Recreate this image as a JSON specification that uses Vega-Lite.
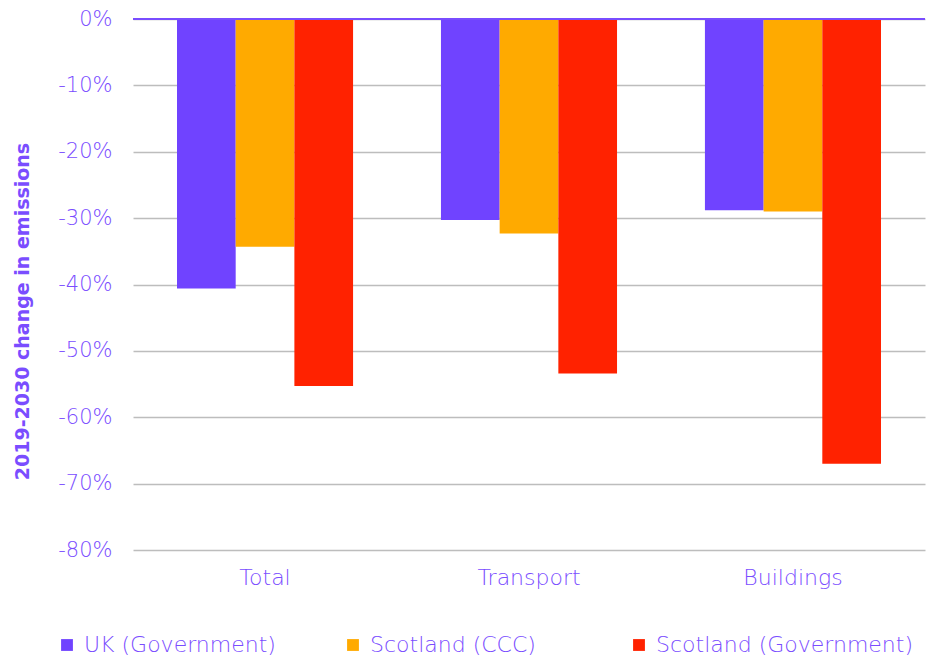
{
  "$schema": "https://vega.github.io/schema/vega-lite/v6.json",
  "width": 792,
  "height": 531,
  "autosize": "none",
  "padding": {"left": 133, "top": 19, "right": 4, "bottom": 111},
  "background": "white",
  "config": {
    "font": "DejaVu Sans",
    "view": {"stroke": null},
    "axis": {"labelFont": "DejaVu Sans", "titleFont": "DejaVu Sans"},
    "legend": {"labelFont": "DejaVu Sans"}
  },
  "data": {
    "values": [
      {"category": "Total", "series": "UK (Government)", "value": -40.6},
      {"category": "Total", "series": "Scotland (CCC)", "value": -34.3},
      {"category": "Total", "series": "Scotland (Government)", "value": -55.3},
      {"category": "Transport", "series": "UK (Government)", "value": -30.3},
      {"category": "Transport", "series": "Scotland (CCC)", "value": -32.3},
      {"category": "Transport", "series": "Scotland (Government)", "value": -53.4},
      {"category": "Buildings", "series": "UK (Government)", "value": -28.8},
      {"category": "Buildings", "series": "Scotland (CCC)", "value": -29.0},
      {"category": "Buildings", "series": "Scotland (Government)", "value": -67.0}
    ]
  },
  "layer": [
    {
      "mark": {"type": "bar"},
      "encoding": {
        "x": {
          "field": "category",
          "type": "nominal",
          "sort": ["Total", "Transport", "Buildings"],
          "scale": {"paddingInner": 0.333, "paddingOuter": 0.1667},
          "axis": {
            "title": null,
            "domain": false,
            "ticks": false,
            "labelAngle": 0,
            "labelFontSize": 22,
            "labelFontWeight": 200,
            "labelColor": "#7A4DFF",
            "labelPadding": 17
          }
        },
        "xOffset": {
          "field": "series",
          "type": "nominal",
          "sort": ["UK (Government)", "Scotland (CCC)", "Scotland (Government)"],
          "scale": {"paddingInner": 0, "paddingOuter": 0}
        },
        "y": {
          "field": "value",
          "type": "quantitative",
          "scale": {"domain": [-80, 0], "nice": false},
          "axis": {
            "title": "2019-2030 change in emissions",
            "titleFontSize": 19,
            "titleFontWeight": "bold",
            "titleColor": "#7A4DFF",
            "titleX": -111,
            "titleY": 292,
            "titleBaseline": "middle",
            "titleAngle": -90,
            "values": [0, -10, -20, -30, -40, -50, -60, -70, -80],
            "labelExpr": "datum.value + '%'",
            "labelFontSize": 21,
            "labelFontWeight": 200,
            "labelColor": "#7A4DFF",
            "labelPadding": 21,
            "ticks": false,
            "domain": false,
            "grid": true,
            "gridColor": "#BDBDBD",
            "gridWidth": 1.3
          }
        },
        "color": {
          "field": "series",
          "type": "nominal",
          "sort": ["UK (Government)", "Scotland (CCC)", "Scotland (Government)"],
          "scale": {
            "domain": ["UK (Government)", "Scotland (CCC)", "Scotland (Government)"],
            "range": ["#7043FF", "#FFAA00", "#FF2200"]
          },
          "legend": {
            "title": null,
            "orient": "none",
            "legendX": -77,
            "legendY": 615,
            "direction": "horizontal",
            "gridAlign": "all",
            "symbolType": "square",
            "symbolSize": 140,
            "symbolStrokeWidth": 0,
            "labelFontSize": 22,
            "labelFontWeight": 200,
            "labelColor": "#7A4DFF",
            "labelOffset": 6,
            "labelLimit": 0,
            "columnPadding": -7
          }
        }
      }
    },
    {
      "mark": {"type": "rule", "color": "#7A4DFF", "strokeWidth": 1.3},
      "encoding": {"y": {"datum": 0}}
    }
  ]
}
